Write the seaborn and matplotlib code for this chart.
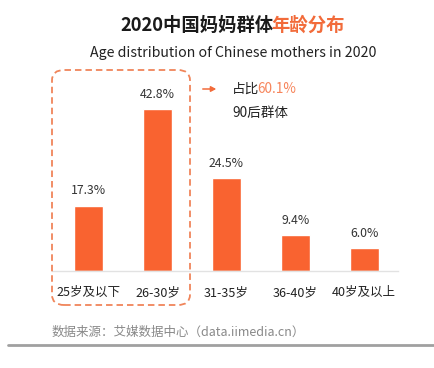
import pandas as pd
import matplotlib
matplotlib.use("Agg")
import matplotlib.pyplot as plt
from matplotlib.patches import FancyBboxPatch, FancyArrowPatch
from matplotlib.lines import Line2D
import seaborn as sns

# data
ages = ["25岁及以下", "26-30岁", "31-35岁", "36-40岁", "40岁及以上"]
shares = [17.3, 42.8, 24.5, 9.4, 6.0]

title_black = "2020中国妈妈群体"
title_orange = "年龄分布"
subtitle = "Age distribution of Chinese mothers in 2020"
note_a = "占比"
note_b = "60.1%"
note_c = "90后群体"
source = "数据来源：艾媒数据中心（data.iimedia.cn）"

bar_color = "#F96330"
accent = "#F26B3A"

sns.set_theme(style="white")
plt.rcParams['font.family'] = ['Noto Sans CJK SC', 'DejaVu Sans']

df = pd.DataFrame({"age": ages, "share": shares})

W, H = 434, 368
fig = plt.figure(figsize=(W / 100, H / 100), dpi=100)
fig.patch.set_facecolor("white")

# axes placed in pixel terms (baseline at y=271, from x=52 to 398)
ax = fig.add_axes([52 / W, (H - 271) / H, 346 / W, 201 / H])
sns.barplot(data=df, x="age", y="share", color=bar_color, width=0.42,
            saturation=1, ax=ax)
ax.set_xlim(-0.53, 4.49)
ax.set_ylim(0, 201 / 3.78)

for i, v in enumerate(shares):
    ax.text(i, v + 2.3, f"{v}%", ha="center", va="bottom", fontsize=8.8, color="#333333")

ax.set_xlabel("")
ax.set_ylabel("")
ax.set_yticks([])
for s in ["top", "right", "left"]:
    ax.spines[s].set_visible(False)
ax.spines["bottom"].set_color("#E2E2E2")
ax.spines["bottom"].set_linewidth(1)
ax.tick_params(axis="x", which="major", length=0, pad=11, labelsize=9, labelcolor="#222222")
ax.set_xticks([0.5, 1.5, 2.5, 3.5], minor=True)
ax.tick_params(axis="x", which="minor", length=4, color="#E2E2E2", width=1)

# title in two colours, the orange part placed right after the black part
t1 = fig.text(120 / W, 1 - 25 / H, title_black, ha="left", va="center",
              fontsize=13.2, fontweight="bold", color="#1a1a1a")
fig.canvas.draw()
x_end = t1.get_window_extent().x1 - 2
fig.text(x_end / W, 1 - 25 / H, title_orange, ha="left", va="center",
         fontsize=13.2, fontweight="bold", color=accent)
fig.text(233 / W, 1 - 53 / H, subtitle, ha="center", va="center",
         fontsize=10.2, color="#222222")

# dashed rounded box around the 90s group
box = FancyBboxPatch((52 / W, 1 - 305 / H), 138 / W, 235 / H,
                     boxstyle="round,pad=0,rounding_size=0.028",
                     transform=fig.transFigure, fill=False,
                     edgecolor="#F0855A", linestyle=(0, (3.6, 2.2)), linewidth=1.3)
fig.add_artist(box)

# arrow + note
fig.add_artist(FancyArrowPatch(
    (200 / W, 1 - 89 / H), (219 / W, 1 - 89 / H), transform=fig.transFigure,
    arrowstyle="-|>,head_length=3,head_width=1.6", color=accent, linewidth=1.1))
t = fig.text(232 / W, 1 - 89 / H, note_a, ha="left", va="center", fontsize=9.8, color="#222222")
fig.canvas.draw()
bb = t.get_window_extent()
fig.text((bb.x1 - 1.5) / W, 1 - 89 / H, note_b, ha="left", va="center", fontsize=9.8, color="#F7845A")
fig.text(232 / W, 1 - 113 / H, note_c, ha="left", va="center", fontsize=9.8, color="#222222")

fig.text(52 / W, 1 - 332 / H, source, ha="left", va="center", fontsize=9.0, color="#888888")
fig.add_artist(Line2D([8 / W, 1], [1 - 345 / H, 1 - 345 / H],
                      transform=fig.transFigure, color="#A0A0A0", linewidth=2))

fig.savefig("out.png", dpi=100)
